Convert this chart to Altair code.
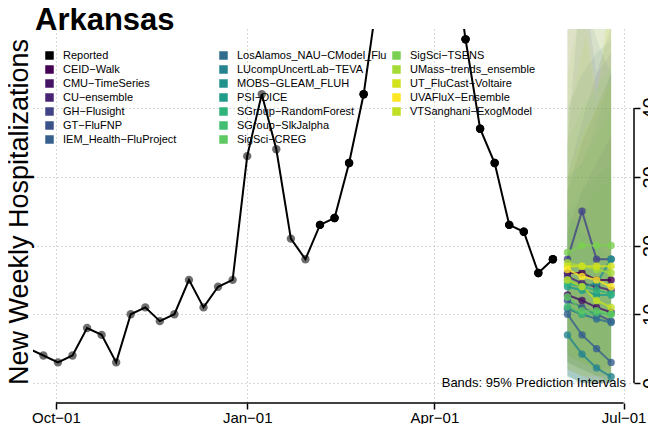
import altair as alt
import pandas as pd

# ---------------- data ----------------
state_name = "Arkansas"

reported_dates = [d.strftime("%Y-%m-%d") for d in pd.date_range("2021-09-18", "2022-05-28", freq="7D")]
reported_values = [5, 4, 3, 4, 8, 7, 3, 10, 11, 9, 10, 15, 11, 14, 15,
                   33, 42, 34, 21, 18, 23, 24, 32, 42, 57, 66, 72, 75,
                   70, 65, 50, 37, 32, 23, 22, 16, 18]
gray_until = "2022-01-29"

forecast_dates = ["2022-06-04", "2022-06-11", "2022-06-18", "2022-06-25"]

models = ["CEID-Walk", "CMU-TimeSeries", "CU-ensemble", "GH-Flusight", "GT-FluFNP",
          "IEM_Health-FluProject", "LosAlamos_NAU-CModel_Flu", "LUcompUncertLab-TEVA",
          "MOBS-GLEAM_FLUH", "PSI-DICE", "SGroup-RandomForest", "SGroup-SlkJalpha",
          "SigSci-CREG", "SigSci-TSENS", "UMass-trends_ensemble", "UT_FluCast-Voltaire",
          "UVAFluX-Ensemble", "VTSanghani-ExogModel"]
model_colors = ["#440154", "#471365", "#482475", "#414487", "#3b528b",
                "#355f8d", "#2f6c8e", "#25848e", "#21918c", "#1e9c89",
                "#2fb47c", "#42be71", "#5ec962", "#7ad151", "#a5db36",
                "#d2e21b", "#fde725", "#c2df23"]

median = {
    "CEID-Walk": [16, 16, 15, 15],
    "CMU-TimeSeries": [12.8, 12, 11, 10.3],
    "CU-ensemble": [15.5, 14.5, 14, 13.5],
    "GH-Flusight": [18, 25, 18, 18],
    "GT-FluFNP": [12, 11, 10, 9],
    "IEM_Health-FluProject": [10, 7, 5, 3],
    "LosAlamos_NAU-CModel_Flu": [10.8, 10, 9.3, 8.8],
    "LUcompUncertLab-TEVA": [7, 4.2, 2.2, 0.9],
    "MOBS-GLEAM_FLUH": [15, 14, 14.5, 18],
    "PSI-DICE": [14, 13.5, 12.8, 12.8],
    "SGroup-RandomForest": [14.5, 14, 13.5, 13],
    "SGroup-SlkJalpha": [11.1, 10, 10.2, 10],
    "SigSci-CREG": [12.5, 10.5, 10.5, 10],
    "SigSci-TSENS": [19, 20, 20, 20],
    "UMass-trends_ensemble": [17.5, 17, 16.5, 16],
    "UT_FluCast-Voltaire": [17, 17, 17, 17],
    "UVAFluX-Ensemble": [16.5, 15.5, 15, 14],
    "VTSanghani-ExogModel": [15, 14, 12, 11],
}
lower = {
    "CEID-Walk": [4, 3, 2, 2],
    "CMU-TimeSeries": [2, 1, 0, 0],
    "CU-ensemble": [3, 2, 1, 0],
    "GH-Flusight": [3, 2, 1, 1],
    "GT-FluFNP": [1, 0, 0, 0],
    "IEM_Health-FluProject": [1, 0, 0, 0],
    "LosAlamos_NAU-CModel_Flu": [1, 0, 0, 0],
    "LUcompUncertLab-TEVA": [0, 0, 0, 0],
    "MOBS-GLEAM_FLUH": [4, 3, 2, 3],
    "PSI-DICE": [3, 2, 1, 1],
    "SGroup-RandomForest": [2, 1, 1, 0],
    "SGroup-SlkJalpha": [1, 0, 0, 0],
    "SigSci-CREG": [1, 0, 0, 0],
    "SigSci-TSENS": [5, 3, 2, 2],
    "UMass-trends_ensemble": [4, 3, 2, 1],
    "UT_FluCast-Voltaire": [2, 1, 1, 0],
    "UVAFluX-Ensemble": [2, 1, 0, 0],
    "VTSanghani-ExogModel": [3, 2, 1, 1],
}
upper = {
    "CEID-Walk": [28, 35, 40, 45],
    "CMU-TimeSeries": [22, 28, 32, 36],
    "CU-ensemble": [30, 38, 45, 52],
    "GH-Flusight": [35, 60, 45, 48],
    "GT-FluFNP": [60, 62, 65, 68],
    "IEM_Health-FluProject": [55, 58, 50, 45],
    "LosAlamos_NAU-CModel_Flu": [40, 45, 48, 50],
    "LUcompUncertLab-TEVA": [25, 22, 20, 18],
    "MOBS-GLEAM_FLUH": [30, 32, 38, 45],
    "PSI-DICE": [25, 28, 30, 32],
    "SGroup-RandomForest": [28, 32, 36, 40],
    "SGroup-SlkJalpha": [22, 25, 28, 30],
    "SigSci-CREG": [35, 40, 43, 46],
    "SigSci-TSENS": [45, 55, 40, 60],
    "UMass-trends_ensemble": [38, 48, 58, 70],
    "UT_FluCast-Voltaire": [55, 60, 65, 70],
    "UVAFluX-Ensemble": [70, 58, 42, 56],
    "VTSanghani-ExogModel": [30, 36, 40, 44],
}

x_ticks = [(2021, 10, 1), (2022, 1, 1), (2022, 4, 1), (2022, 7, 1)]
y_ticks = [0, 10, 20, 30, 40]

# legend columns (column-major, as in the original)
legend_cols = [models[0:6], models[6:13], models[13:18]]

# ---------------- tables ----------------
rep_df = pd.DataFrame({"date": reported_dates, "value": reported_values})
rep_df["shade"] = ["#6e6e6e" if d <= gray_until else "black" for d in rep_df["date"]]

rows = []
for m in models:
    for i, d in enumerate(forecast_dates):
        rows.append({"model": m, "date": d, "median": median[m][i],
                     "lower": lower[m][i], "upper": upper[m][i]})
fc_df = pd.DataFrame(rows)
color_of = dict(zip(models, model_colors))

# ---------------- scales / axes ----------------
W, H = 601, 374
FONT = "Liberation Sans"

def dt(y, m, d):
    return alt.DateTime(year=y, month=m, date=d, utc=True)

xs = alt.Scale(type="utc", domain=[dt(2021, 9, 20), dt(2022, 7, 6)], nice=False)
ys = alt.Scale(domain=[-2.91, 51.5], nice=False, zero=False)

grid_kw = dict(grid=True, gridDash=[1, 3], gridColor="#b0b0b0", gridWidth=1)
xax = alt.Axis(values=[dt(*t) for t in x_ticks],
               labelExpr="utcFormat(datum.value, '%b\u2212%d')",
               labelFont=FONT, labelFontSize=15, labelColor="black", labelPadding=1,
               tickColor="black", tickSize=6, tickWidth=1.5, domain=False, title=None,
               labelFlush=False, labelOverlap=False, **grid_kw)
yax = alt.Axis(orient="right", values=y_ticks, labelAngle=270, labelAlign="center",
               labelBaseline="top", labelFont=FONT, labelFontSize=20, labelColor="black",
               labelPadding=0, tickColor="black", tickSize=6, tickWidth=1.5, domain=False,
               title=None, labelFlush=False, labelOverlap=False, **grid_kw)

def X(f):
    return alt.X(f"{f}:T", scale=xs, axis=xax)

def Y(f):
    return alt.Y(f"{f}:Q", scale=ys, axis=yax)

legend_x = [11, 185, 358]
legend_y = 21

def make_legend(i):
    return alt.Legend(orient="none", legendX=legend_x[i], legendY=legend_y, title=None,
                      direction="vertical", symbolType="square", symbolSize=72,
                      symbolStrokeWidth=0, symbolOpacity=1, labelFont=FONT,
                      labelFontSize=11, labelColor="black", labelOffset=8,
                      rowPadding=2, padding=0, labelLimit=0,
                      labelExpr="replace(datum.label, regexp('-', 'g'), '\u2212')")

groups = []
for i, g in enumerate(legend_cols):
    dom = (["Reported"] if i == 0 else []) + g
    rng = (["black"] if i == 0 else []) + [color_of[m] for m in g]
    groups.append((g, dom, rng))

band_layers, line_layers, point_layers = [], [], []
for i, (g, dom, rng) in enumerate(groups):
    sub = fc_df[fc_df["model"].isin(g)]
    sc = alt.Scale(domain=dom, range=rng)
    band_layers.append(
        alt.Chart(sub).mark_area(opacity=0.09, clip=True, interpolate="linear").encode(
            x=X("date"), y=Y("lower"), y2=alt.Y2("upper"),
            color=alt.Color("model:N", scale=sc, legend=None)))
    line_layers.append(
        alt.Chart(sub).mark_line(strokeWidth=2, opacity=0.8, clip=True).encode(
            x=X("date"), y=Y("median"),
            color=alt.Color("model:N", scale=sc, legend=None)))
    point_layers.append(
        alt.Chart(sub).mark_circle(size=55, opacity=0.8, clip=True).encode(
            x=X("date"), y=Y("median"),
            color=alt.Color("model:N", scale=sc, legend=make_legend(i))))

rep_points = alt.Chart(rep_df).mark_circle(size=70, opacity=1, clip=True).encode(
    x=X("date"), y=Y("value"), color=alt.Color("shade:N", scale=None))
rep_line = alt.Chart(rep_df).mark_line(color="black", strokeWidth=2, clip=True).encode(
    x=X("date"), y=Y("value"))
rep_points_top = alt.Chart(rep_df[rep_df["date"] > gray_until]).mark_circle(
    size=70, opacity=1, clip=True, color="black").encode(x=X("date"), y=Y("value"))

# axis lines drawn only between the outer ticks, as in the original
xline_df = pd.DataFrame({"start": ["2021-10-01"], "end": ["2022-07-01"]})
x_line = alt.Chart(xline_df).mark_rule(color="black", strokeWidth=1.5).encode(
    x=X("start"), x2=alt.X2("end"), y=alt.value(H))
yline_df = pd.DataFrame({"lo": [y_ticks[0]], "hi": [y_ticks[-1]]})
y_line = alt.Chart(yline_df).mark_rule(color="black", strokeWidth=1.5).encode(
    y=Y("lo"), y2=alt.Y2("hi"), x=alt.value(W))

title_txt = alt.Chart(pd.DataFrame({"t": [state_name]})).mark_text(
    font=FONT, fontSize=31, fontWeight="bold", align="left", baseline="alphabetic",
    color="black").encode(text="t:N", x=alt.value(2), y=alt.value(1))
ytitle_txt = alt.Chart(pd.DataFrame({"t": ["New Weekly Hospitalizations"]})).mark_text(
    font=FONT, fontSize=27, angle=270, align="center", baseline="middle",
    color="black").encode(text="t:N", x=alt.value(-13), y=alt.value(183))
band_note = alt.Chart(pd.DataFrame({"t": ["Bands: 95% Prediction Intervals"]})).mark_text(
    font=FONT, fontSize=13, align="right", baseline="alphabetic",
    color="black").encode(text="t:N", x=alt.value(593), y=alt.value(358))

chart = alt.layer(
    *band_layers, rep_points, rep_line, rep_points_top,
    *line_layers, *point_layers,
    x_line, y_line, band_note, title_txt, ytitle_txt,
).resolve_scale(color="independent").properties(
    width=W, height=H,
    padding={"left": 25, "top": 21, "right": 14, "bottom": 21},
    autosize=alt.AutoSizeParams(type="none"),
    background="white",
).configure_view(stroke=None)

chart.save("out.html", embed_options={"renderer": "svg", "actions": False})
